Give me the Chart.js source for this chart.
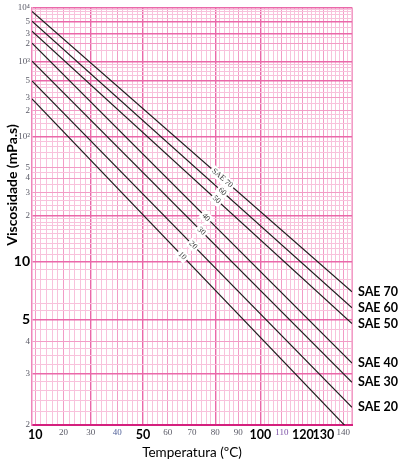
<!DOCTYPE html>
<html>
<head>
<meta charset="utf-8">
<script src="https://cdn.jsdelivr.net/npm/chart.js@4.4.0/dist/chart.umd.min.js"></script>
<style>
    html, body { margin: 0; padding: 0; background: #fff; }
    #wrap { width: 398px; height: 464px; }
</style>
</head>
<body>
<div id="wrap"><canvas id="viscChart"></canvas></div>
<script>
// ==================== Data ====================
const seriesNames = ['SAE 70', 'SAE 60', 'SAE 50', 'SAE 40', 'SAE 30', 'SAE 20', 'SAE 10'];
const inlineLabels = ['SAE 70', '60', '50', '40', '30', '20', '10'];
const edgeTemps = [8.9, 144.4]; // ºC at the left and right edge of the paper

// viscosity (mPa.s) at the two edge temperatures
const sae70 = [8240, 6.85];
const sae60 = [5180, 5.70];
const sae50 = [3330, 4.81];
const sae40 = [2020, 3.28];
const sae30 = [1010, 2.78];
const sae20 = [504, 2.28];
const sae10 = [285, 1.89];
const seriesValues = [sae70, sae60, sae50, sae40, sae30, sae20, sae10];

// where the small labels sit on each line (ºC)
const inlineLabelTemps = [83, 83, 80.5, 76, 74, 70.5, 66];

// tick labels
const yLabelValues = [10000, 5000, 3000, 2000, 1000, 500, 300, 200, 100, 50, 40, 30, 20, 10, 5, 4, 3, 2];
const yLabelTexts = ['10⁴', '5', '3', '2', '10³', '5', '3', '2', '10²', '5', '4', '3', '2', '10', '5', '4', '3', '2'];
const yBoldValues = [10, 5];
const xLabelTemps = [10, 20, 30, 40, 50, 60, 70, 80, 90, 100, 110, 120, 130, 140];
const xBoldTemps = [10, 50, 100, 120, 130];

// ==================== ASTM scales ====================
const tx = t => Math.log10(t + 273.15);
const ty = v => Math.log10(Math.log10(v + 0.7));

const PINK_LIGHT = '#f8c2dc';
const PINK_MID = '#f29cc6';
const PINK_STRONG = '#ea68a9';
const thickY = [10000, 5000, 3000, 1000, 500, 100, 20, 10, 5, 3];
const thickX = [30, 50, 80, 100];

function buildYTicks() {
    const decades = [
        { base: 1, m: [2, 2.2, 2.4, 2.6, 2.8, 3, 3.25, 3.5, 3.75, 4, 4.5, 5, 5.5, 6, 7, 8, 9] },
        { base: 10, m: [1, 1.1, 1.2, 1.3, 1.4, 1.5, 1.6, 1.7, 1.8, 1.9, 2, 2.2, 2.4, 2.6, 2.8, 3, 3.5, 4, 4.5, 5, 6, 7, 8, 9] },
        { base: 100, m: [1, 1.2, 1.4, 1.6, 1.8, 2, 2.5, 3, 3.5, 4, 4.5, 5, 6, 7, 8, 9] },
        { base: 1000, m: [1, 1.5, 2, 2.5, 3, 4, 5, 6, 7, 8, 9, 10] }
    ];
    const ticks = [];
    decades.forEach(d => {
        d.m.forEach(m => {
            const v = Math.round(d.base * m * 100) / 100;
            const idx = yLabelValues.indexOf(v);
            ticks.push({
                value: ty(v),
                text: idx >= 0 ? yLabelTexts[idx] : '',
                bold: yBoldValues.includes(v),
                level: thickY.includes(v) ? 2 : (idx >= 0 ? 1 : 0)
            });
        });
    });
    return ticks;
}

function buildXTicks() {
    const ticks = [];
    for (let t = 10; t <= 144; t += 2) {
        ticks.push({
            value: tx(t),
            text: xLabelTemps.includes(t) ? String(t) : '',
            bold: xBoldTemps.includes(t),
            level: thickX.includes(t) ? 2 : (t % 10 === 0 ? 1 : 0),
            temp: t
        });
    }
    ticks.push({ value: tx(edgeTemps[1]), text: '', bold: false, level: 1 });
    return ticks;
}

function gridColor(ctx) {
    const lvl = ctx.tick ? ctx.tick.level : 0;
    return lvl === 2 ? PINK_STRONG : (lvl === 1 ? PINK_MID : PINK_LIGHT);
}
function gridWidth(ctx) {
    const lvl = ctx.tick ? ctx.tick.level : 0;
    return lvl === 2 ? 1.4 : 1;
}
function tickFont(ctx) {
    if (ctx.tick && ctx.tick.bold) {
        const size = ctx.scale && ctx.scale.axis === 'x' ? 12.5 : 14;
        return { family: 'Lato, "Open Sans", sans-serif', size: size, weight: 'bold' };
    }
    return { family: '"Liberation Serif", "DejaVu Serif", serif', size: 9 };
}
function tickColor(ctx) {
    if (ctx.tick && ctx.tick.bold) return '#000';
    if (ctx.tick && ctx.tick.temp === 110) return '#7b4fa6';
    if (ctx.tick && ctx.tick.temp === 40) return '#4f5f98';
    return '#5a5a66';
}

// ==================== Text overlay ====================
const saeLabelsPlugin = {
    id: 'saeLabels',
    afterDatasetsDraw(chart) {
        const { ctx, chartArea, scales } = chart;
        const xs = scales.x, ys = scales.y;
        ctx.save();
        chart.data.datasets.forEach((ds, i) => {
            const x0 = xs.getPixelForValue(ds.data[0].x), y0 = ys.getPixelForValue(ds.data[0].y);
            const x1 = xs.getPixelForValue(ds.data[1].x), y1 = ys.getPixelForValue(ds.data[1].y);
            const angle = Math.atan2(y1 - y0, x1 - x0);

            // small label sitting on the line
            const lx = xs.getPixelForValue(tx(inlineLabelTemps[i]));
            const ly = y0 + (y1 - y0) * (lx - x0) / (x1 - x0);
            ctx.save();
            ctx.translate(lx, ly);
            ctx.rotate(angle);
            ctx.font = '8px "Liberation Serif", serif';
            const w = ctx.measureText(inlineLabels[i]).width;
            ctx.fillStyle = '#fff';
            ctx.fillRect(-w / 2 - 2, -5, w + 4, 10);
            ctx.fillStyle = '#333';
            ctx.textAlign = 'center';
            ctx.textBaseline = 'middle';
            ctx.fillText(inlineLabels[i], 0, 0);
            ctx.restore();

            // name at the right end of the line
            if (y1 < chartArea.bottom) {
                ctx.font = 'bold 12.5px Lato, "Open Sans", sans-serif';
                ctx.fillStyle = '#000';
                ctx.textAlign = 'left';
                ctx.textBaseline = 'middle';
                ctx.fillText(seriesNames[i], chartArea.right + 6, y1);
            }
        });

        // y axis title
        ctx.save();
        ctx.translate(12, 185);
        ctx.rotate(-Math.PI / 2);
        ctx.font = 'bold 14px Lato, "Open Sans", sans-serif';
        ctx.fillStyle = '#000';
        ctx.textAlign = 'center';
        ctx.textBaseline = 'middle';
        ctx.fillText('Viscosidade (mPa.s)', 0, 0);
        ctx.restore();
        ctx.restore();
    }
};

// ==================== Chart ====================
const datasets = seriesNames.map((name, i) => ({
    label: name,
    data: edgeTemps.map((t, j) => ({ x: tx(t), y: ty(seriesValues[i][j]) })),
    borderColor: '#1e1e1e',
    borderWidth: 1.2,
    pointRadius: 0,
    tension: 0
}));

new Chart(document.getElementById('viscChart'), {
    type: 'line',
    data: { datasets: datasets },
    options: {
        responsive: true,
        maintainAspectRatio: false,
        animation: false,
        layout: { padding: { top: 5, right: 46, left: 0, bottom: 0 } },
        plugins: { legend: { display: false }, tooltip: { enabled: false } },
        scales: {
            x: {
                type: 'linear',
                min: tx(edgeTemps[0]),
                max: tx(edgeTemps[1]),
                afterBuildTicks: s => { s.ticks = buildXTicks(); },
                afterFit: s => { s.height = 39; },
                border: { color: '#d4207e', width: 2 },
                grid: { color: gridColor, lineWidth: gridWidth, drawTicks: false },
                ticks: {
                    autoSkip: false,
                    maxRotation: 0,
                    minRotation: 0,
                    padding: 2,
                    font: tickFont,
                    color: tickColor,
                    callback: (value, index, ticks) => ticks[index].text
                },
                title: {
                    display: true,
                    text: 'Temperatura (ºC)',
                    font: { family: 'Lato, "Open Sans", sans-serif', size: 13.5 },
                    color: '#000',
                    padding: { top: 0, bottom: 3 }
                }
            },
            y: {
                type: 'linear',
                min: ty(2),
                max: ty(10000),
                afterBuildTicks: s => { s.ticks = buildYTicks(); },
                afterFit: s => { s.width = 32; },
                border: { color: '#ee86bb', width: 1.5 },
                grid: { color: gridColor, lineWidth: gridWidth, drawTicks: false },
                ticks: {
                    autoSkip: false,
                    padding: 2,
                    font: tickFont,
                    color: tickColor,
                    callback: (value, index, ticks) => ticks[index].text
                }
            }
        }
    },
    plugins: [saeLabelsPlugin]
});
</script>
</body>
</html>
